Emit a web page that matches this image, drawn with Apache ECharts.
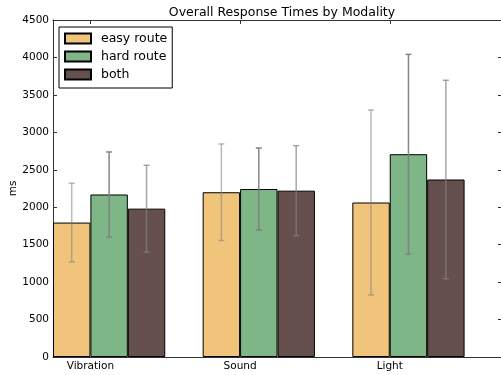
<!DOCTYPE html>
<html>
<head>
<meta charset="utf-8">
<script src="https://cdn.jsdelivr.net/npm/echarts@6/dist/echarts.min.js"></script>
<style>html,body{margin:0;padding:0;background:#fff}#c{width:501px;height:375px}</style>
</head>
<body>
<div id="c"></div>
<script>
var categories = ['Vibration', 'Sound', 'Light'];
var seriesNames = ['easy route', 'hard route', 'both'];
var easyMean = [1795, 2200, 2063];
var easyErr = [525, 645, 1235];
var hardMean = [2170, 2243, 2708];
var hardErr = [568, 548, 1333];
var bothMean = [1981, 2221, 2370];
var bothErr = [579, 601, 1325];
var yTicks = [0, 500, 1000, 1500, 2000, 2500, 3000, 3500, 4000, 4500];

var means = [easyMean, hardMean, bothMean];
var errs = [easyErr, hardErr, bothErr];
var colors = ['#f0c57b', '#7eb687', '#66504e'];
var errColors = ['rgba(128,128,128,0.55)', 'rgba(128,128,128,0.95)', 'rgba(128,128,128,0.7)'];
var FONT = 'DejaVu Sans';

var chart = echarts.init(document.getElementById('c'), null, {renderer: 'canvas'});

var series = [];
seriesNames.forEach(function (name, k) {
  series.push({
    name: name, type: 'bar', xAxisIndex: 0, yAxisIndex: 0,
    barWidth: '25%', barGap: '0%',
    data: means[k],
    itemStyle: {color: colors[k], borderColor: '#000', borderWidth: 1},
    emphasis: {disabled: true}, animation: false
  });
});
// empty slot to keep groups aligned to the band start
series.push({name: '_pad', type: 'bar', xAxisIndex: 0, yAxisIndex: 0, barWidth: '25%', barGap: '0%',
  data: [null, null, null], animation: false});

seriesNames.forEach(function (name, k) {
  var d = categories.map(function (c, i) { return [i, means[k][i] - errs[k][i], means[k][i] + errs[k][i]]; });
  series.push({
    type: 'custom', xAxisIndex: 0, yAxisIndex: 0, animation: false, z: 10,
    data: d,
    renderItem: function (params, api) {
      var i = api.value(0);
      var lo = api.coord([i, api.value(1)]);
      var hi = api.coord([i, api.value(2)]);
      var bw = api.size([1, 0])[0];
      var x = lo[0] - bw / 2 + (k + 0.5) * bw * 0.25;
      var st = {stroke: errColors[k], lineWidth: 1.5};
      var cw = 3;
      return {type: 'group', children: [
        {type: 'line', shape: {x1: x, y1: lo[1], x2: x, y2: hi[1]}, style: st},
        {type: 'line', shape: {x1: x - cw, y1: lo[1], x2: x + cw, y2: lo[1]}, style: st},
        {type: 'line', shape: {x1: x - cw, y1: hi[1], x2: x + cw, y2: hi[1]}, style: st}
      ]};
    }
  });
});

var spine = {show: true, onZero: false, lineStyle: {color: '#333', width: 1}};

chart.setOption({
  animation: false,
  title: {text: 'Overall Response Times by Modality', left: 277, top: 1, textAlign: 'center',
    textStyle: {fontFamily: FONT, fontSize: 12.5, fontWeight: 'normal', color: '#000'}},
  legend: {
    data: seriesNames, orient: 'vertical', left: 59, top: 27,
    itemWidth: 26, itemHeight: 10, itemGap: 5,
    padding: [5, 5, 7, 5], borderColor: '#000', borderWidth: 1, borderRadius: 0,
    backgroundColor: '#fff', selectedMode: false, icon: 'rect', z: 20,
    textStyle: {fontFamily: FONT, fontSize: 12.5, color: '#000', padding: [0, 0, 0, 5]}
  },
  grid: {left: 53, top: 20, right: -1, bottom: 18, containLabel: false, outerBoundsMode: 'none'},
  xAxis: [
    {type: 'category', data: categories, position: 'bottom', axisLine: spine,
      axisTick: {show: false}, axisLabel: {show: false}, splitLine: {show: false}},
    {type: 'value', min: -0.25, max: 2.75, position: 'bottom', axisLine: {show: false, onZero: false},
      axisTick: {show: false}, splitLine: {show: false},
      axisLabel: {show: true, customValues: [0, 1, 2], margin: 4, fontFamily: FONT, fontSize: 10.5, color: '#000',
        formatter: function (v) { return categories[Math.round(v)]; }}},
    {type: 'value', min: -0.25, max: 2.75, position: 'top', axisLine: spine,
      axisTick: {show: true, inside: true, length: 4, customValues: [0, 1, 2], lineStyle: {color: '#333'}},
      axisLabel: {show: false}, splitLine: {show: false}}
  ],
  yAxis: [
    {type: 'value', min: 0, max: 4500, interval: 500, position: 'left', axisLine: spine,
      name: 'ms', nameLocation: 'middle', nameGap: 34, nameRotate: 90, nameMoveOverlap: false,
      nameTextStyle: {fontFamily: FONT, fontSize: 10.5, color: '#000'},
      axisTick: {show: true, inside: true, length: 4, lineStyle: {color: '#333'}},
      axisLabel: {margin: 4, fontFamily: FONT, fontSize: 10.5, color: '#000',
        formatter: function (v) { return yTicks.indexOf(v) >= 0 ? String(v) : ''; }},
      splitLine: {show: false}},
    {type: 'value', min: 0, max: 4500, interval: 500, position: 'right', axisLine: spine,
      axisTick: {show: true, inside: true, length: 4, lineStyle: {color: '#333'}},
      axisLabel: {show: false}, splitLine: {show: false}}
  ],
  series: series
});
</script>
</body>
</html>
